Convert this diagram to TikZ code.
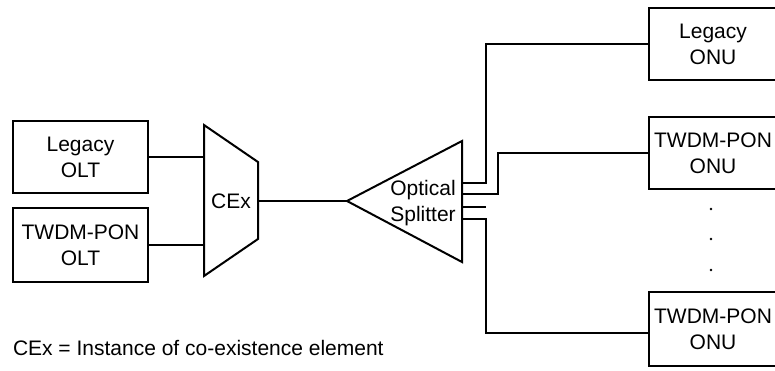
\documentclass[tikz,border=0pt]{standalone}
\usepackage{fontspec}
\setmainfont{Liberation Sans}
\begin{document}
\begin{tikzpicture}[x=1pt,y=-1pt,
  line width=2pt,
  every node/.style={font=\fontsize{21}{26}\selectfont, align=center, inner sep=0pt},
  box/.style={draw, line width=2pt, minimum width=135pt, minimum height=72pt},
  onubox/.style={draw, line width=2pt, minimum width=128pt, minimum height=72pt},
  wire/.style={line width=2pt}]
\clip (0,0) rectangle (775,370);
% OLTs
\node[box] (olt1) at (80.5,157) {Legacy\\OLT};
\node[box, minimum height=74pt] (olt2) at (80.5,245) {TWDM-PON\\OLT};
% CEx trapezoid
\draw[line join=miter] (204,125) -- (258,162) -- (258,239) -- (204,276) -- cycle;
\node (cex) at (231,201) {CEx};
\coordinate (cexin1) at (204,157);
\coordinate (cexin2) at (204,245);
\coordinate (cexout) at (258,201);
% Splitter
\draw[line join=miter] (347,201) -- (462,141) -- (462,262) -- cycle;
\node (split) at (423,203) {Optical\\Splitter};
\coordinate (sin) at (347,201);
\coordinate (s1) at (462,183);
\coordinate (s2) at (462,194);
\coordinate (s3) at (462,207);
\coordinate (s4) at (462,219);
\coordinate (s3end) at (486,207);
% ONUs
\node[onubox] (onu1) at (713,44) {Legacy\\ONU};
\node[onubox] (onu2) at (713,153) {TWDM-PON\\ONU};
\node[onubox, minimum height=74pt] (onu3) at (713,329) {TWDM-PON\\ONU};
% dots
\fill (711,209) circle (1.4);
\fill (711,239) circle (1.4);
\fill (711,270) circle (1.4);
% connectors
\draw[wire] (olt1.east) -- (cexin1);
\draw[wire] (olt2.east) -- (cexin2);
\draw[wire] (cexout) -- (sin);
\draw[wire] (s1) -- (486,183) -- (486,44) -- (onu1.west);
\draw[wire] (s2) -- (498,194) -- (498,153) -- (onu2.west);
\draw[wire] (s3) -- (s3end);
\draw[wire] (s4) -- (486,219) -- (486,333) -- (649,333);
% caption
\node[anchor=base west] (cap) at (12,355) {CEx = Instance of co-existence element};
\end{tikzpicture}
\end{document}
